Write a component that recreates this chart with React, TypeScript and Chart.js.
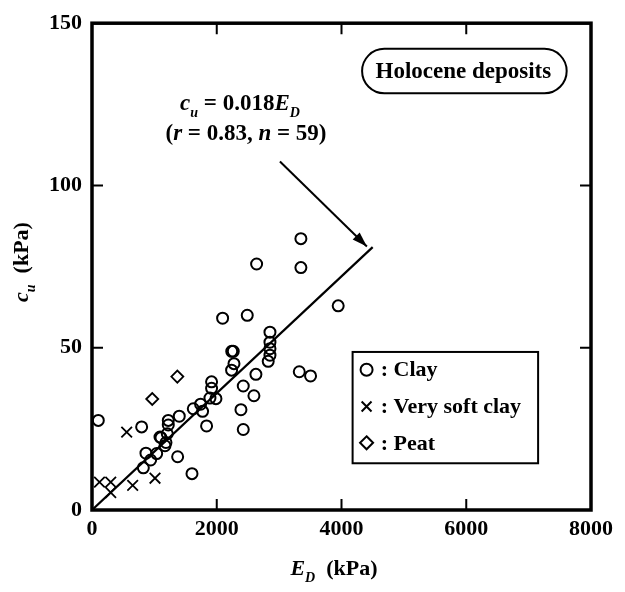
import React, { useEffect, useRef } from "react";
import { Chart, registerables } from "chart.js";

Chart.register(...registerables);

// ---------- data ----------
const clayPoints: [number, number][] = [
  [3349, 83.6], [3349, 74.7], [2639, 75.8], [3947, 62.9], [2094, 59.1], [2489, 60.0],
  [2853, 54.8], [2853, 51.7], [2853, 49.7], [2853, 47.7], [2825, 45.8],
  [2265, 48.9], [2240, 48.9], [2276, 45.1], [2238, 43.1], [2628, 41.8], [3323, 42.6], [3504, 41.3],
  [1917, 39.5], [1917, 37.5], [1891, 34.5], [1987, 34.3], [2425, 38.2], [2596, 35.2], [2388, 30.9], [2425, 24.8],
  [1741, 32.6], [1624, 31.2], [1773, 30.4], [1837, 25.9], [1399, 28.9], [1223, 27.6], [1223, 26.2], [1207, 23.5],
  [1106, 22.3], [1186, 20.8], [1170, 19.8], [1037, 17.4], [865, 17.5], [940, 15.4], [823, 13.0], [796, 25.6],
  [1373, 16.4], [1603, 11.2], [101, 27.6], [1090, 22.5],
];
const verySoftClayPoints: [number, number][] = [
  [556, 24.0], [1010, 9.8], [652, 7.6], [120, 8.6], [300, 8.6], [300, 5.4],
];
const peatPoints: [number, number][] = [
  [1368, 41.1], [966, 34.2],
];
const fitLine: [number, number][] = [[0, 0], [4500, 81]];

const xTickValues = [0, 2000, 4000, 6000, 8000];
const yTickValues = [0, 50, 100, 150];
const legendLabels = [": Clay", ": Very soft clay", ": Peat"];
const boxLabel = "Holocene deposits";

// ---------- styling ----------
const SERIF = '"Liberation Serif", "Times New Roman", serif';
const fnt = (size: number, italic = false, bold = true) =>
  `${italic ? "italic " : ""}${bold ? "bold " : ""}${size}px ${SERIF}`;

type Seg = { t: string; it?: boolean; sub?: boolean };

function drawRich(ctx: CanvasRenderingContext2D, segs: Seg[], x: number, y: number, size: number, align: "left" | "center") {
  const subSize = Math.round(size * 0.62);
  const widths = segs.map((s) => {
    ctx.font = fnt(s.sub ? subSize : size, !!s.it);
    return ctx.measureText(s.t).width;
  });
  const total = widths.reduce((a, b) => a + b, 0);
  let cx = align === "center" ? x - total / 2 : x;
  ctx.textAlign = "left";
  ctx.textBaseline = "alphabetic";
  segs.forEach((s, i) => {
    ctx.font = fnt(s.sub ? subSize : size, !!s.it);
    ctx.fillText(s.t, cx, y + (s.sub ? size * 0.3 : 0));
    cx += widths[i];
  });
}

function drawMarker(ctx: CanvasRenderingContext2D, style: string, cx: number, cy: number, r: number) {
  ctx.beginPath();
  if (style === "circle") {
    ctx.arc(cx, cy, r, 0, Math.PI * 2);
  } else if (style === "crossRot") {
    const d = r * Math.SQRT1_2;
    ctx.moveTo(cx - d, cy - d); ctx.lineTo(cx + d, cy + d);
    ctx.moveTo(cx + d, cy - d); ctx.lineTo(cx - d, cy + d);
  } else {
    ctx.moveTo(cx, cy - r); ctx.lineTo(cx + r, cy); ctx.lineTo(cx, cy + r); ctx.lineTo(cx - r, cy); ctx.closePath();
  }
  ctx.stroke();
}

const overlay = {
  id: "overlay",
  afterDraw(chart: any) {
    const { ctx, chartArea: ca } = chart;
    const xs = chart.scales.x;
    const ys = chart.scales.y;
    const px = (v: number) => xs.getPixelForValue(v);
    const py = (v: number) => ys.getPixelForValue(v);
    ctx.save();
    ctx.strokeStyle = "#000";
    ctx.fillStyle = "#000";

    // frame
    ctx.lineWidth = 3.5;
    ctx.strokeRect(ca.left, ca.top, ca.right - ca.left, ca.bottom - ca.top);

    // inward ticks on all sides
    ctx.lineWidth = 2;
    const tl = 11;
    xTickValues.slice(1, -1).forEach((v) => {
      const X = px(v);
      ctx.beginPath();
      ctx.moveTo(X, ca.bottom); ctx.lineTo(X, ca.bottom - tl);
      ctx.moveTo(X, ca.top); ctx.lineTo(X, ca.top + tl);
      ctx.stroke();
    });
    yTickValues.slice(1, -1).forEach((v) => {
      const Y = py(v);
      ctx.beginPath();
      ctx.moveTo(ca.left, Y); ctx.lineTo(ca.left + tl, Y);
      ctx.moveTo(ca.right, Y); ctx.lineTo(ca.right - tl, Y);
      ctx.stroke();
    });

    // axis titles
    drawRich(ctx, [{ t: "E", it: true }, { t: "D", it: true, sub: true }, { t: "  (kPa)" }], 334, 575, 22, "center");
    ctx.save();
    ctx.translate(28, 262);
    ctx.rotate(-Math.PI / 2);
    drawRich(ctx, [{ t: "c", it: true }, { t: "u", it: true, sub: true }, { t: "  (kPa)" }], 0, 0, 22, "center");
    ctx.restore();

    // regression annotation
    drawRich(ctx, [{ t: "c", it: true }, { t: "u", it: true, sub: true }, { t: " = 0.018" }, { t: "E", it: true }, { t: "D", it: true, sub: true }], 240, 110, 23, "center");
    drawRich(ctx, [{ t: "(" }, { t: "r", it: true }, { t: " = 0.83, " }, { t: "n", it: true }, { t: " = 59)" }], 246, 140, 23, "center");

    // arrow
    const ax0 = px(3013), ay0 = py(107.4), ax1 = px(4407), ay1 = py(81.2);
    ctx.lineWidth = 2;
    ctx.beginPath(); ctx.moveTo(ax0, ay0); ctx.lineTo(ax1, ay1); ctx.stroke();
    const ang = Math.atan2(ay1 - ay0, ax1 - ax0);
    const hl = 15, hw = 5;
    ctx.beginPath();
    ctx.moveTo(ax1, ay1);
    ctx.lineTo(ax1 - hl * Math.cos(ang) + hw * Math.sin(ang), ay1 - hl * Math.sin(ang) - hw * Math.cos(ang));
    ctx.lineTo(ax1 - hl * Math.cos(ang) - hw * Math.sin(ang), ay1 - hl * Math.sin(ang) + hw * Math.cos(ang));
    ctx.closePath(); ctx.fill();

    // "Holocene deposits" pill
    const bx0 = px(4330), bx1 = px(7610), by0 = py(142.1), by1 = py(128.4);
    const rr = (by1 - by0) / 2;
    ctx.lineWidth = 2;
    ctx.beginPath();
    ctx.moveTo(bx0 + rr, by0);
    ctx.lineTo(bx1 - rr, by0);
    ctx.arc(bx1 - rr, by0 + rr, rr, -Math.PI / 2, Math.PI / 2);
    ctx.lineTo(bx0 + rr, by1);
    ctx.arc(bx0 + rr, by0 + rr, rr, Math.PI / 2, Math.PI * 1.5);
    ctx.closePath();
    ctx.stroke();
    ctx.font = fnt(23);
    ctx.textAlign = "center";
    ctx.textBaseline = "alphabetic";
    ctx.fillText(boxLabel, (bx0 + bx1) / 2 - 1, by0 + 29);

    // legend
    const lx0 = px(4178), lx1 = px(7152), ly0 = py(48.7), ly1 = py(14.4);
    ctx.lineWidth = 2;
    ctx.strokeRect(lx0, ly0, lx1 - lx0, ly1 - ly0);
    const rows = [43.2, 31.9, 20.7];
    const styles = ["circle", "crossRot", "rectRot"];
    const radii = [6, 7, 6.5];
    ctx.lineWidth = 2;
    rows.forEach((r, i) => {
      const Y = py(r);
      drawMarker(ctx, styles[i], px(4402), Y, radii[i]);
      ctx.font = fnt(22);
      ctx.textAlign = "left";
      ctx.textBaseline = "middle";
      ctx.fillText(legendLabels[i], px(4630), Y + 1);
    });
    ctx.restore();
  },
};

export default function App() {
  const ref = useRef<HTMLCanvasElement | null>(null);
  useEffect(() => {
    if (!ref.current) return;
    const toXY = (arr: [number, number][]) => arr.map(([x, y]) => ({ x, y }));
    const tickFont = { family: SERIF, size: 22, weight: "bold" as const };
    const chart = new Chart(ref.current, {
      type: "scatter",
      data: {
        datasets: [
          { label: "Clay", data: toXY(clayPoints), pointStyle: "circle", pointRadius: 5.5, borderColor: "#000", backgroundColor: "rgba(0,0,0,0)", borderWidth: 2 },
          { label: "Very soft clay", data: toXY(verySoftClayPoints), pointStyle: "crossRot", pointRadius: 7.5, borderColor: "#000", backgroundColor: "rgba(0,0,0,0)", borderWidth: 1.8 },
          { label: "Peat", data: toXY(peatPoints), pointStyle: "rectRot", pointRadius: 6, borderColor: "#000", backgroundColor: "rgba(0,0,0,0)", borderWidth: 1.8 },
          { type: "line" as any, label: "fit", data: toXY(fitLine), borderColor: "#000", borderWidth: 2.2, pointRadius: 0, showLine: true, fill: false } as any,
        ],
      },
      options: {
        responsive: false,
        animation: false,
        devicePixelRatio: 1,
        layout: { padding: { top: 17, right: 34, left: 0, bottom: 0 } },
        plugins: { legend: { display: false }, tooltip: { enabled: false } },
        scales: {
          x: {
            type: "linear", min: 0, max: 8000,
            afterBuildTicks: (s: any) => { s.ticks = xTickValues.map((v) => ({ value: v })); },
            ticks: { font: tickFont, color: "#000", padding: 6, maxRotation: 0, autoSkip: false, callback: (v: any) => String(v) },
            grid: { display: false, drawTicks: false },
            border: { display: false },
            afterFit: (s: any) => { s.height = 82; },
          },
          y: {
            type: "linear", min: 0, max: 150,
            afterBuildTicks: (s: any) => { s.ticks = yTickValues.map((v) => ({ value: v })); },
            ticks: { font: tickFont, color: "#000", padding: 10, autoSkip: false, callback: (v: any) => String(v) },
            grid: { display: false, drawTicks: false },
            border: { display: false },
            afterFit: (s: any) => { s.width = 92; },
          },
        },
      },
      plugins: [overlay],
    });
    return () => chart.destroy();
  }, []);
  return (
    <div style={{ position: "fixed", left: 0, top: 0, width: 625, height: 592, background: "#fff" }}>
      <canvas ref={ref} width={625} height={592} style={{ width: 625, height: 592 }} />
    </div>
  );
}
